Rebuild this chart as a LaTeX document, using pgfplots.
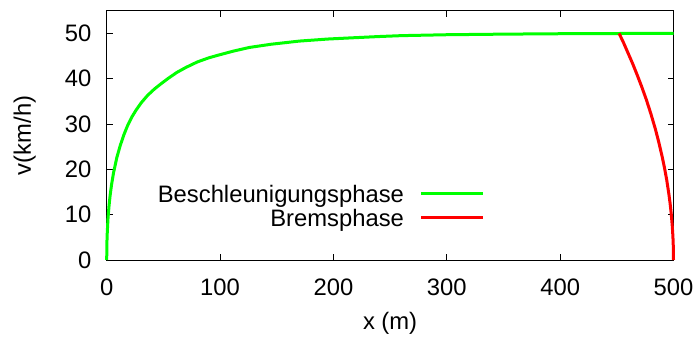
\documentclass[border=0pt]{standalone}
\usepackage{fontspec}
\setmainfont{Liberation Sans}
\usepackage{pgfplots}
\pgfplotsset{compat=1.18}
\definecolor{lgreen}{RGB}{0,255,0}
\definecolor{lred}{RGB}{255,0,0}
\begin{document}
\fontsize{11.9bp}{14.3bp}\selectfont
\begin{tikzpicture}
\useasboundingbox (-53.35bp,-40bp) rectangle (296.65bp,130bp);
\begin{axis}[
  scale only axis, width=283.4bp, height=124.65bp,
  at={(0,0)}, anchor=south west,
  xmin=0, xmax=500, ymin=0, ymax=55,
  xtick={0,100,...,500}, ytick={0,10,...,50},
  tick align=inside, major tick length=3bp,
  axis line style={line width=0.5bp},
  every tick/.style={black, line width=0.5bp},
  /pgf/number format/assume math mode=true,
  xticklabel style={yshift=-5.5bp},
  yticklabel style={xshift=-3.5bp},
  xlabel={x (m)}, ylabel={v(km/h)},
  xlabel style={at={(axis description cs:0.5,-0.254)}, anchor=center},
  ylabel style={at={(axis description cs:-0.1445,0.5)}, anchor=center},
  clip=false,
  legend cell align=right, legend plot pos=right,
  legend style={at={(0.6674,0.2956)}, anchor=north east, draw=none, fill=none,
    inner sep=0pt, outer sep=0pt, column sep=8bp, row sep=0pt,
    nodes={inner sep=0pt, text height=8.2bp, text depth=3.5bp}},
  legend image code/.code={\draw[#1, line width=1.5bp] (0bp,2.2bp) -- (31bp,2.2bp);},
]
\addplot[lgreen, line width=1.5bp] coordinates {
(0,0) (0.2,3.9) (0.5,6.0) (1.12,9.06) (2,11.8) (3,14.2) (4.22,16.5) (6,19.2)
(8.93,22.6) (12,25.3) (14.96,27.5) (18.5,29.7) (22.3,31.6) (26,33.1) (30.5,34.7)
(36,36.3) (42,37.7) (48,38.9) (54.4,40.1) (62,41.4) (70,42.5) (80,43.7) (90,44.6)
(98.5,45.2) (112,46.1) (126,46.9) (145,47.6) (170,48.3) (195,48.75) (215,49.0)
(240,49.3) (260,49.5) (300,49.7) (350,49.83) (400,49.92) (450,49.97) (500,50)
};
\addlegendentry{Beschleunigungsphase}
\addplot[lred, line width=1.5bp] coordinates {
(452,50) (456,47.9) (460,45.6) (464,43.3) (468,40.8) (472,38.2) (476,35.4)
(480,32.3) (484,28.9) (487,26.0) (490,22.8) (492,20.4) (494,17.7) (496,14.4)
(497,12.5) (498,10.2) (499,7.2) (499.5,5.1) (499.8,3.2) (499.95,1.6) (500,0)
};
\addlegendentry{Bremsphase}
\end{axis}
\end{tikzpicture}
\end{document}
